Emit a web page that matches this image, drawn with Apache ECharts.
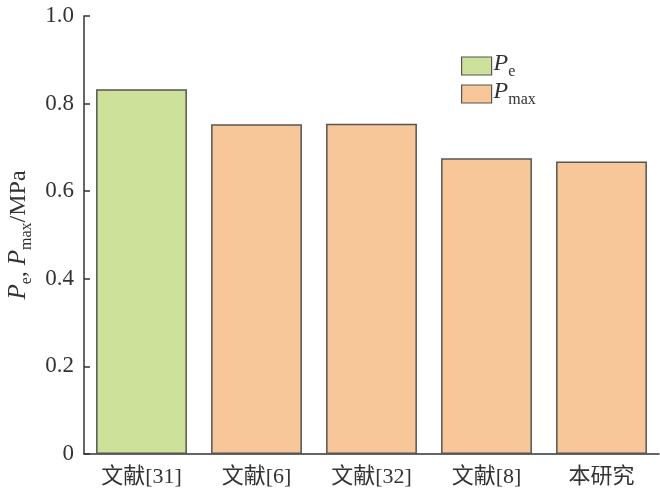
<!DOCTYPE html>
<html><head><meta charset="utf-8">
<script src="https://cdn.jsdelivr.net/npm/echarts@6/dist/echarts.min.js"></script>
<style>html,body{margin:0;padding:0;background:#fff}#c{width:660px;height:495px}</style>
</head><body><div id="c"></div>
<script>
var categories = ['文献[31]', '文献[6]', '文献[32]', '文献[8]', '本研究'];
var peValues = [0.833, null, null, null, null];
var pmaxValues = [null, 0.753, 0.754, 0.675, 0.668];
var yTicks = [0, 0.2, 0.4, 0.6, 0.8, 1.0];

var FONT = '"Liberation Serif", "Noto Sans CJK SC", serif';
var chart = echarts.init(document.getElementById('c'));
function mkRich(big, small, lh, pad) {
  return {
    i: {fontFamily: FONT, fontStyle: 'italic', fontSize: big, color: '#333', lineHeight: lh, verticalAlign: 'top'},
    s: {fontFamily: FONT, fontSize: small, color: '#333', lineHeight: lh, verticalAlign: 'bottom', padding: [pad, 0, 0, 0]},
    n: {fontFamily: FONT, fontSize: big - 1, color: '#333', lineHeight: lh, verticalAlign: 'top'}
  };
}
chart.setOption({
  animation: false,
  backgroundColor: '#fff',
  grid: {left: 84, right: 1, top: 16, bottom: 41, outerBoundsMode: 'none', containLabel: false},
  legend: {
    left: 456, top: 47, orient: 'vertical', itemWidth: 30, itemHeight: 18, itemGap: 0,
    icon: 'rect',
    data: ['Pe', 'Pmax'],
    itemStyle: {borderColor: '#555', borderWidth: 1.2},
    formatter: function (n) { return n === 'Pe' ? '{i|P}{s|e}' : '{i|P}{s|max}'; },
    textStyle: {rich: mkRich(24, 16, 28, 10), padding: [0, 0, 0, -3]}
  },
  xAxis: {
    type: 'category', data: categories,
    axisLine: {lineStyle: {color: '#333', width: 1.5}},
    axisTick: {inside: true, alignWithLabel: true, length: 6, lineStyle: {color: '#333', width: 1.5}},
    axisLabel: {fontFamily: FONT, fontSize: 22, color: '#333', margin: 12}
  },
  yAxis: {
    type: 'value', min: 0, max: 1.0, interval: 0.2,
    axisLine: {show: true, lineStyle: {color: '#333', width: 1.5}},
    axisTick: {show: true, inside: true, length: 6, lineStyle: {color: '#333', width: 1.5}},
    splitLine: {show: false},
    axisLabel: {fontFamily: FONT, fontSize: 23, color: '#333', margin: 10,
      formatter: function (v) { return v === 0 ? '0' : v.toFixed(1); }},
    name: '{i|P}{s|e}{n|, }{i|P}{s|max}{n|/MPa}',
    nameLocation: 'middle', nameGap: 45, nameRotate: 90,
    nameTextStyle: {rich: mkRich(25, 16, 28, 10)}
  },
  series: [
    {name: 'Pe', type: 'bar', data: peValues, barWidth: '79%', barGap: '-100%',
     itemStyle: {color: '#cee19b', borderColor: '#555', borderWidth: 1.5}},
    {name: 'Pmax', type: 'bar', data: pmaxValues, barWidth: '79%', barGap: '-100%',
     itemStyle: {color: '#f7c79a', borderColor: '#555', borderWidth: 1.5}}
  ]
});
</script></body></html>
